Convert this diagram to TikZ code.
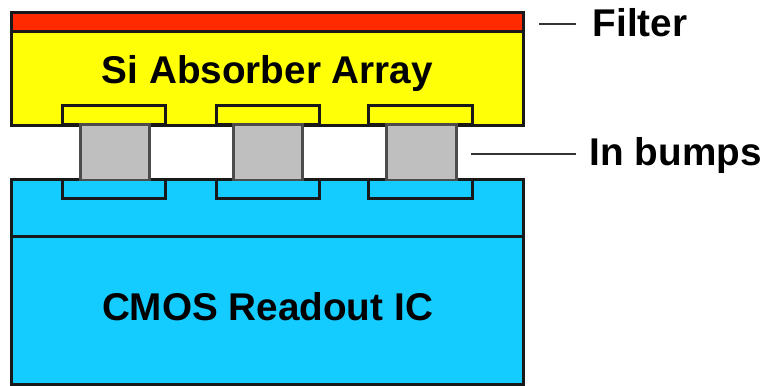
\documentclass[tikz,border=0pt]{standalone}
\usepackage{fontspec}
\setmainfont{Liberation Sans}
\usepackage{tikz}
\definecolor{icblue}{HTML}{14CCFF}
\definecolor{bumpgrey}{HTML}{BFBFBF}
\definecolor{filterred}{HTML}{FF2A00}
\definecolor{siyellow}{HTML}{FFFF08}
\tikzset{
    layer/.style={rectangle, draw=black!90, line width=0.85pt, inner sep=0pt, minimum width=5.11cm},
    pad/.style={rectangle, draw=black!90, line width=0.85pt, inner sep=0pt, minimum width=1.03cm, minimum height=0.19cm},
    bump/.style={rectangle, draw=black!70, line width=0.85pt, fill=bumpgrey, inner sep=0pt, minimum width=0.69cm, minimum height=0.55cm},
    caption/.style={font=\bfseries\fontsize{11pt}{13pt}\selectfont, inner sep=0pt},
    leader/.style={draw=black!80, line width=0.8pt},
}
\begin{document}
\begin{tikzpicture}[x=0.01cm, y=-0.01cm]
            \useasboundingbox (0,0) rectangle (763,386);

            \node[layer, fill=siyellow, minimum height=1.12cm] at (267.5, 69)   (si) {};
            \node[layer, fill=filterred, minimum height=0.19cm] at (267.5, 22.5)   (filter) {};
            \node[pad, fill=siyellow] at (114, 115.5)   (top1) {};
            \node[pad, fill=siyellow] at (268, 115.5)   (top2) {};
            \node[pad, fill=siyellow] at (420.5, 115.5)   (top3) {};

            \node[layer, fill=icblue, minimum height=0.57cm] at (267.5, 208.5)   (ic) {};
            \node[layer, fill=icblue, minimum height=1.47cm] at (267.5, 310.5)   (cmos) {};
            \node[pad, fill=icblue] at (114, 189.5)   (bot1) {};
            \node[pad, fill=icblue] at (268, 189.5)   (bot2) {};
            \node[pad, fill=icblue] at (420.5, 189.5)   (bot3) {};

            \node[bump] at (115, 152.5)   (bump1) {};
            \node[bump] at (268, 152.5)   (bump2) {};
            \node[bump] at (421.5, 152.5)   (bump3) {};

            \node[caption] at (267.5, 74)   (silabel) {Si Absorber Array};
            \node[caption] at (267.5, 307)   (cmoslabel) {CMOS Readout IC};
            \node[caption, anchor=west] at (592, 23)   (filterlabel) {Filter};
            \node[caption, anchor=west] at (589, 156)   (bumplabel) {In bumps};

            \coordinate (filterend) at (539, 24);
            \coordinate (filterstop) at (576, 24);
            \coordinate (bumpend) at (471, 154);
            \coordinate (bumpstop) at (576, 154);

            \draw [leader] (filterend) -- (filterstop);
            \draw [leader] (bumpend) -- (bumpstop);
        \end{tikzpicture}
\end{document}
